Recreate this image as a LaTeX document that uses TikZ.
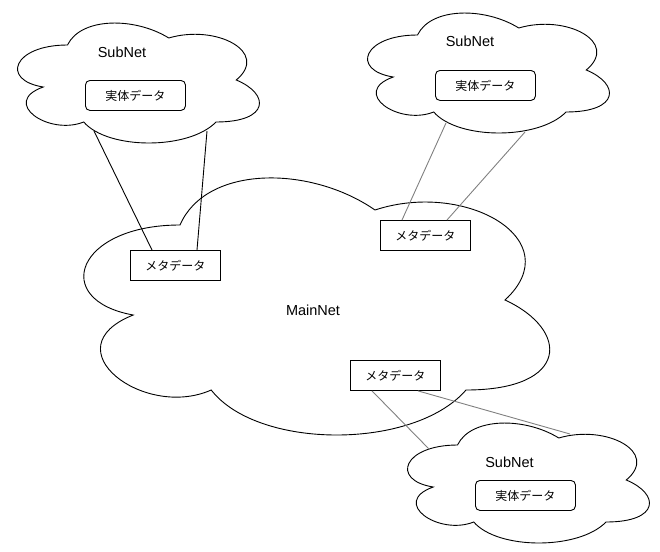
\documentclass[tikz,border=0pt]{standalone}
\usepackage{fontspec}
\setmainfont{Liberation Sans}
\newfontfamily\jpfont{Noto Sans CJK JP}
\usetikzlibrary{positioning}

% cloud outline: name, left, top, width, height
\newcommand{\netcloud}[5]{%
  \begin{scope}[shift={(#2,#3)}, x=#4pt, y=-#5pt]
    \draw[cloudline] (0.25,0.25) .. controls (0.05,0.25) and (0,0.5) .. (0.16,0.55)
      .. controls (0,0.66) and (0.18,0.9) .. (0.31,0.8)
      .. controls (0.4,1) and (0.7,1) .. (0.8,0.8)
      .. controls (1,0.8) and (1,0.6) .. (0.875,0.5)
      .. controls (1,0.3) and (0.8,0.1) .. (0.625,0.2)
      .. controls (0.5,0.05) and (0.3,0.05) .. (0.25,0.25) -- cycle;
    \coordinate (#1) at (0.5,0.5);
  \end{scope}}

\begin{document}
\begin{tikzpicture}[
    x=1pt, y=-1pt,
    base/.style={draw, line width=0.9pt, inner sep=0pt, anchor=north west, fill=white,
        font=\jpfont\fontsize{12}{14}\selectfont},
    metabox/.style={base, minimum width=90pt, minimum height=30pt},
    realbox/.style={base, rounded corners=4.5pt, minimum width=100pt, minimum height=30pt},
    cloudline/.style={line width=0.9pt, draw=black},
    netlabel/.style={font=\fontsize{14.5}{17}\selectfont},
    link/.style={line width=0.9pt, draw=black},
    greylink/.style={line width=0.9pt, draw=black!50}
]
\useasboundingbox (0,0) rectangle (660,551);
\netcloud{mainnet}{50}{150}{520}{300}
\netcloud{subleft}{0}{10}{270}{140}
\netcloud{subright}{350}{0}{270}{140}
\netcloud{sublow}{390}{410}{270}{140}
\node[netlabel] (mainlabel) at (313,310) {MainNet};
\node[netlabel] (subleftlabel) at (122,52) {SubNet};
\node[netlabel] (subrightlabel) at (470,41) {SubNet};
\node[netlabel] (sublowlabel) at (509.5,462) {SubNet};
\node[realbox] (realleft) at (85,80) {実体データ};
\node[realbox] (realright) at (435,70) {実体データ};
\node[realbox] (reallow) at (475,480) {実体データ};
\node[metabox] (metaleft) at (130,250) {メタデータ};
\node[metabox] (metaright) at (380,220) {メタデータ};
\node[metabox] (metalow) at (350,360) {メタデータ};
\coordinate (subleftA) at (94,131);
\coordinate (subleftB) at (207,131);
\coordinate (subrightA) at (446,123);
\coordinate (subrightB) at (525,132);
\coordinate (sublowA) at (429,449);
\coordinate (sublowB) at (570,434);
\draw[link] ([xshift=22pt]metaleft.north west) -- (subleftA);
\draw[link] ([xshift=67pt]metaleft.north west) -- (subleftB);
\draw[greylink] ([xshift=22pt]metaright.north west) -- (subrightA);
\draw[greylink] ([xshift=67pt]metaright.north west) -- (subrightB);
\draw[greylink] ([xshift=22pt]metalow.south west) -- (sublowA);
\draw[greylink] ([xshift=68pt]metalow.south west) -- (sublowB);
\end{tikzpicture}
\end{document}
